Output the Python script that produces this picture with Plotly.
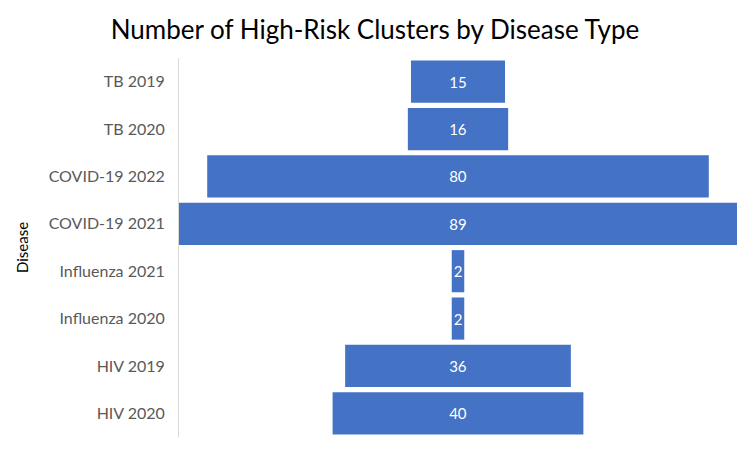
import plotly.graph_objects as go

categories = ["TB 2019", "TB 2020", "COVID-19 2022", "COVID-19 2021",
              "Influenza 2021", "Influenza 2020", "HIV 2019", "HIV 2020"]
values = [15, 16, 80, 89, 2, 2, 36, 40]

fig = go.Figure(go.Funnel(
    y=categories,
    x=values,
    textinfo="value",
    textposition="inside",
    constraintext="none",
    insidetextfont=dict(color="white", size=15, family="Lato"),
    marker=dict(color="#4472C4", line=dict(width=0)),
    connector=dict(visible=False),
))

fig.update_layout(
    width=750, height=449,
    paper_bgcolor="white", plot_bgcolor="white",
    margin=dict(l=179, r=13, t=58, b=12, autoexpand=False),
    funnelgap=0.11,
    showlegend=False,
    title=dict(text="Number of High-Risk Clusters by Disease Type",
               x=0.5, xanchor="center", y=0.933, yanchor="middle",
               font=dict(family="Lato", size=26, color="black")),
    font=dict(family="Lato"),
)
fig.update_xaxes(range=[-44.5, 44.5], visible=False, automargin=False)
fig.update_yaxes(
    automargin=False,
    showline=True, linecolor="#d9d9d9", linewidth=1,
    ticks="", ticklabelstandoff=10,
    tickfont=dict(size=16, color="#595959", family="Lato"),
    title=dict(text="Disease", font=dict(size=15, color="black", family="Lato"), standoff=16),
)

fig.write_html("out.html",
               config={"displayModeBar": False},
               post_script="document.body.style.margin='0';document.body.style.overflow='hidden';")
